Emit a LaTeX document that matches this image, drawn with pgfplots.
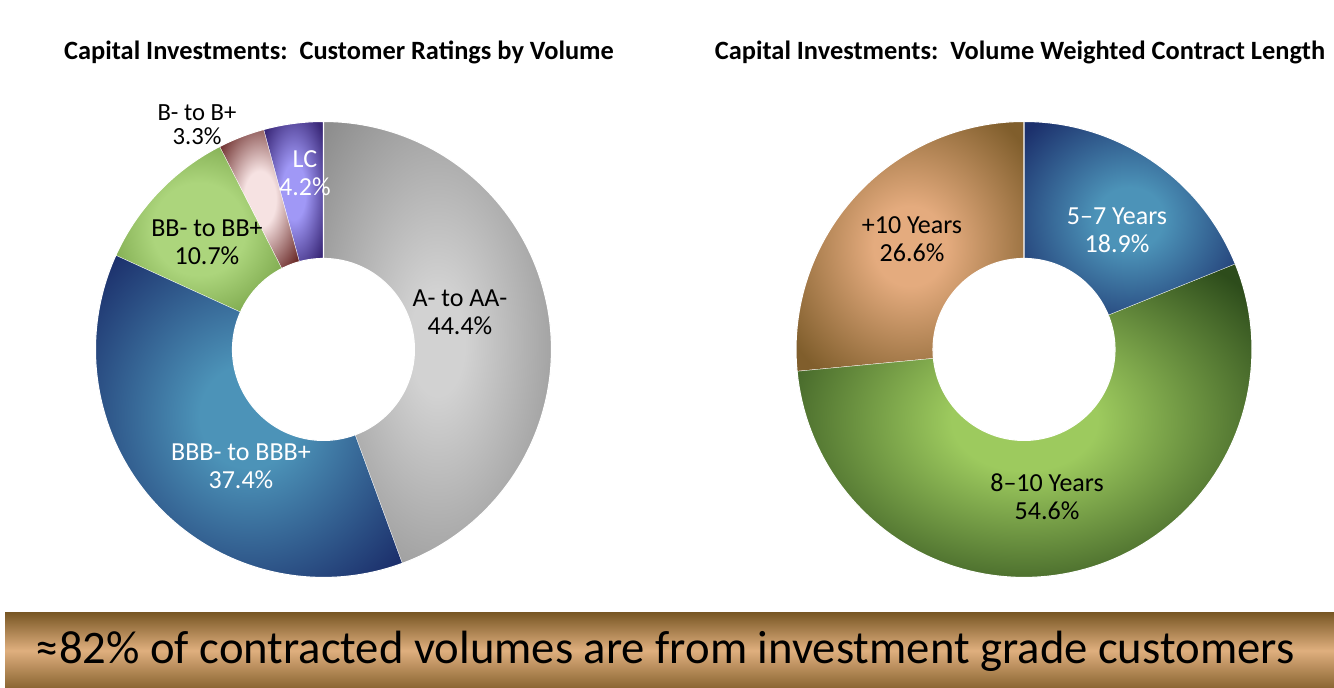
\documentclass[border=0pt]{standalone}
\usepackage{pgfplots}
\pgfplotsset{compat=1.18}
\usepackage{fontspec}
\setmainfont{Carlito}

\definecolor{grayL}{HTML}{D2D2D2}\definecolor{grayD}{HTML}{8E8E8E}
\definecolor{blueL}{HTML}{4C93B8}\definecolor{blueD}{HTML}{1C306C}
\definecolor{bbL}{HTML}{ACD57C}\definecolor{bbD}{HTML}{6E9A3E}
\definecolor{pinkL}{HTML}{F6E2E2}\definecolor{pinkD}{HTML}{6A2A28}
\definecolor{purL}{HTML}{A098F6}\definecolor{purD}{HTML}{3A2878}
\definecolor{grnL}{HTML}{9DCA5E}\definecolor{grnD}{HTML}{2D4C1B}
\definecolor{tanL}{HTML}{E4AB7E}\definecolor{tanD}{HTML}{805E2C}
\definecolor{bTop}{HTML}{7A5826}\definecolor{bMid}{HTML}{DFAF7E}\definecolor{bBot}{HTML}{8A6532}

\pgfdeclareradialshading{shGray}{\pgfpoint{0bp}{0bp}}{color(0bp)=(grayL); color(6bp)=(grayL); color(34bp)=(grayD); color(50bp)=(grayD)}
\pgfdeclareradialshading{shBlue}{\pgfpoint{0bp}{0bp}}{color(0bp)=(blueL); color(8bp)=(blueL); color(33bp)=(blueD); color(50bp)=(blueD)}
\pgfdeclareradialshading{shBB}{\pgfpoint{0bp}{0bp}}{color(0bp)=(bbL); color(14bp)=(bbL); color(34bp)=(bbD); color(50bp)=(bbD)}
\pgfdeclareradialshading{shPink}{\pgfpoint{0bp}{0bp}}{color(0bp)=(pinkL); color(10bp)=(pinkL); color(32bp)=(pinkD); color(50bp)=(pinkD)}
\pgfdeclareradialshading{shPur}{\pgfpoint{0bp}{0bp}}{color(0bp)=(purL); color(10bp)=(purL); color(32bp)=(purD); color(50bp)=(purD)}
\pgfdeclareradialshading{shGrn}{\pgfpoint{0bp}{0bp}}{color(0bp)=(grnL); color(8bp)=(grnL); color(32bp)=(grnD); color(50bp)=(grnD)}
\pgfdeclareradialshading{shTan}{\pgfpoint{0bp}{0bp}}{color(0bp)=(tanL); color(8bp)=(tanL); color(32bp)=(tanD); color(50bp)=(tanD)}

% #1 cumulative percent before the slice, #2 percent of slice, #3 shading
\newcommand{\slice}[3]{%
  \addplot[shade, shading=#3, draw=white, line width=0.8pt, domain=0:3, samples=301, variable=\t, mark=none]
  ({(228-137*min(max(\t-1,0),1))*cos(90-3.6*(#1+#2*min(\t,1,3-\t)))},
   {(228-137*min(max(\t-1,0),1))*sin(90-3.6*(#1+#2*min(\t,1,3-\t)))});
}

\begin{document}
\begin{tikzpicture}
\path[use as bounding box] (0,0) rectangle (1000.5pt,516pt);

\node[font=\bfseries\fontsize{19.8}{22}\selectfont] at (254.25pt,477pt) {Capital Investments:\ \ Customer Ratings by Volume};
\node[font=\bfseries\fontsize{19.8}{22}\selectfont] at (765pt,477pt) {Capital Investments:\ \ Volume Weighted Contract Length};

\begin{axis}[hide axis, x=0.75pt, y=0.75pt, xmin=-240, xmax=240, ymin=-240, ymax=240,
  anchor=origin, at={(242.6pt,253.9pt)}, clip=false]
  \slice{0}{44.4}{shGray}
  \slice{44.4}{37.4}{shBlue}
  \slice{81.8}{10.7}{shBB}
  \slice{92.5}{3.3}{shPink}
  \slice{95.8}{4.2}{shPur}
  \node[align=center, font=\fontsize{19.5}{21}\selectfont] at (axis cs:136.5,37.5) {A- to AA-\\44.4\%};
  \node[align=center, text=white, font=\fontsize{19.5}{21}\selectfont] at (axis cs:-82.5,-116.5) {BBB- to BBB+\\37.4\%};
  \node[align=center, font=\fontsize{19.5}{21}\selectfont] at (axis cs:-116.5,107.5) {BB- to BB+\\10.7\%};
  \node[align=center, font=\fontsize{18.5}{18}\selectfont] at (axis cs:-126.5,225) {B- to B+\\3.3\%};
  \node[align=center, text=white, font=\fontsize{19.5}{21}\selectfont] at (axis cs:-18.5,176.5) {LC\\4.2\%};
\end{axis}

\begin{axis}[hide axis, x=0.75pt, y=0.75pt, xmin=-240, xmax=240, ymin=-240, ymax=240,
  anchor=origin, at={(768pt,253.9pt)}, clip=false]
  \slice{0}{18.9}{shBlue}
  \slice{18.9}{54.6}{shGrn}
  \slice{73.5}{26.5}{shTan}
  \node[align=center, text=white, font=\fontsize{19.5}{21}\selectfont] at (axis cs:93,119.5) {5--7 Years\\18.9\%};
  \node[align=center, font=\fontsize{19.5}{21}\selectfont] at (axis cs:23,-147.5) {8--10 Years\\54.6\%};
  \node[align=center, font=\fontsize{19.5}{21}\selectfont] at (axis cs:-112,110.5) {+10 Years\\26.6\%};
\end{axis}

\shade[top color=bTop, bottom color=bBot, middle color=bMid] (3.75pt,0pt) rectangle (1000.5pt,56.25pt);
\node[font=\fontsize{35}{38}\selectfont] at (498.75pt,27.8pt) {≈82\% of contracted volumes are from investment grade customers};
\end{tikzpicture}
\end{document}
